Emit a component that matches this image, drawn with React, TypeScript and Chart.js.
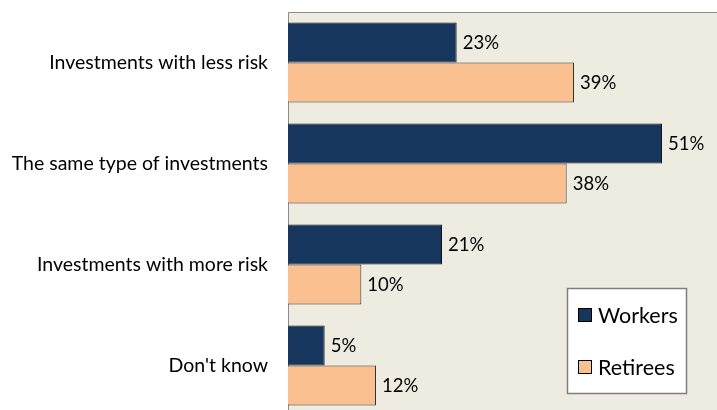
import React, { useEffect, useRef } from "react";
import { Chart, registerables } from "chart.js";

Chart.register(...registerables);

const categories = [
  "Investments with less risk",
  "The same type of investments",
  "Investments with more risk",
  "Don't know",
];
const workers = [23, 51, 21, 5];
const retirees = [39, 38, 10, 12];
const seriesNames = ["Workers", "Retirees"];

const NAVY = "#17365D";
const PEACH = "#FAC090";
const BEIGE = "#EEECE1";
const FONT = "Lato, 'Open Sans', sans-serif";

const bgPlugin = {
  id: "bgPlugin",
  beforeDatasetsDraw(chart: any) {
    const { ctx, chartArea: a } = chart;
    ctx.save();
    ctx.fillStyle = BEIGE;
    ctx.fillRect(a.left, a.top, a.right - a.left, a.bottom - a.top);
    ctx.strokeStyle = "#8C8C8C";
    ctx.lineWidth = 1;
    ctx.beginPath();
    ctx.moveTo(a.left + 0.5, a.bottom);
    ctx.lineTo(a.left + 0.5, a.top + 0.5);
    ctx.lineTo(a.right, a.top + 0.5);
    ctx.stroke();
    ctx.restore();
  },
};

const labelPlugin = {
  id: "labelPlugin",
  afterDatasetsDraw(chart: any) {
    const { ctx } = chart;
    ctx.save();
    ctx.font = `18.5px ${FONT}`;
    ctx.fillStyle = "#000";
    ctx.textAlign = "left";
    ctx.textBaseline = "middle";
    chart.data.datasets.forEach((ds: any, di: number) => {
      const meta = chart.getDatasetMeta(di);
      meta.data.forEach((bar: any, i: number) => {
        ctx.fillText(ds.data[i] + "%", bar.x + 6, bar.y + 1);
      });
    });
    ctx.restore();
  },
};

const legendPlugin = {
  id: "legendPlugin",
  afterDraw(chart: any) {
    const { ctx } = chart;
    ctx.save();
    ctx.fillStyle = "#FFFFFF";
    ctx.fillRect(567, 288, 119, 105);
    ctx.strokeStyle = "#7F7F7F";
    ctx.lineWidth = 1.5;
    ctx.strokeRect(567.5, 288.5, 119, 105);
    const colors = [NAVY, PEACH];
    const ys = [315, 367];
    ctx.font = `21.5px ${FONT}`;
    ctx.textBaseline = "middle";
    ctx.textAlign = "left";
    seriesNames.forEach((n, i) => {
      ctx.fillStyle = colors[i];
      ctx.fillRect(578, ys[i] - 7, 14, 14);
      ctx.strokeStyle = "#000";
      ctx.lineWidth = 1;
      ctx.strokeRect(578.5, ys[i] - 6.5, 13, 13);
      ctx.fillStyle = "#000";
      ctx.fillText(n, 598, ys[i] + 1);
    });
    ctx.restore();
  },
};

export default function App() {
  const ref = useRef<HTMLCanvasElement>(null);
  useEffect(() => {
    if (!ref.current) return;
    const chart = new Chart(ref.current, {
      type: "bar",
      data: {
        labels: categories,
        datasets: [
          {
            label: seriesNames[0],
            data: workers,
            backgroundColor: NAVY,
            borderColor: "#111111",
            borderWidth: 1,
            categoryPercentage: 0.792,
            barPercentage: 1,
          },
          {
            label: seriesNames[1],
            data: retirees,
            backgroundColor: PEACH,
            borderColor: "#333333",
            borderWidth: 1,
            categoryPercentage: 0.792,
            barPercentage: 1,
          },
        ],
      },
      options: {
        indexAxis: "y",
        animation: false,
        responsive: false,
        maintainAspectRatio: false,
        layout: { padding: { top: 12, left: 0, right: 0, bottom: 0 } },
        plugins: { legend: { display: false }, tooltip: { enabled: false } },
        scales: {
          x: { display: false, min: 0, max: 58.5 },
          y: {
            grid: { display: false, drawTicks: false },
            border: { display: false },
            ticks: {
              color: "#000",
              padding: 20,
              font: { family: FONT, size: 19.5 },
            },
            afterFit(scale: any) {
              scale.width = 288;
              scale.paddingTop = 0;
              scale.paddingBottom = 0;
            },
          },
        },
      },
      plugins: [bgPlugin, labelPlugin, legendPlugin],
    });
    return () => chart.destroy();
  }, []);
  return (
    <div style={{ position: "absolute", left: 0, top: 0, width: 717, height: 416 }}>
      <canvas ref={ref} width={717} height={416} style={{ width: 717, height: 416 }} />
    </div>
  );
}
